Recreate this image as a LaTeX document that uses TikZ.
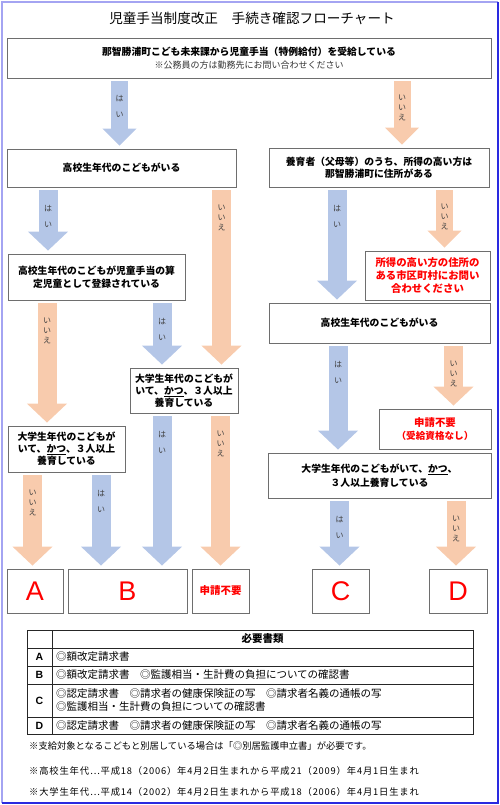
\documentclass[tikz,border=0pt]{standalone}
\usepackage{fontspec}
\setmainfont{Noto Sans CJK JP}
\newfontfamily\latin{Liberation Sans}
\usepackage{xcolor}
\usepackage{tikz}
\usetikzlibrary{arrows.meta,positioning}
\definecolor{FlowBlue}{HTML}{B4C6E7}
\definecolor{FlowOrange}{HTML}{F8CBAD}
\definecolor{FlowLine}{HTML}{6E6E6E}
\definecolor{FlowLabel}{HTML}{404040}
\definecolor{FlowFrameA}{HTML}{A4A4F2}
\definecolor{FlowFrameB}{HTML}{2A2AE0}
\newcommand\katsuline[1]{\leavevmode\setbox0\hbox{#1}\rlap{\rule[-1.8pt]{\wd0}{0.6pt}}\box0}

\begin{document}
\begin{tikzpicture}[x=1pt,y=-1pt,
  box/.style={draw=FlowLine,line width=.8pt,fill=white,align=center,inner sep=2pt,
    font=\fontsize{9.8}{12.5}\selectfont\bfseries},
  alert/.style={box,text=red,font=\fontsize{10.4}{12.6}\selectfont\bfseries},
  result/.style={box,minimum height=44pt,text=red,font=\latin\fontsize{27}{27}\selectfont},
  yesarrow/.style={draw=FlowBlue,line width=19pt,-{Triangle[width=39pt,length=19pt]},
    shorten <=3pt,shorten >=3pt},
  noarrow/.style={yesarrow,draw=FlowOrange},
  slimyes/.style={yesarrow,line width=17pt,-{Triangle[width=33pt,length=17pt]}},
  slimno/.style={slimyes,draw=FlowOrange},
  yeslabel/.style={anchor=north,yshift=-8pt,inner sep=0pt,text=FlowLabel,align=center,
    font=\fontsize{8}{16}\selectfont},
  nolabel/.style={yeslabel,font=\fontsize{8}{10}\selectfont},
  keycell/.style={draw=black!85,line width=.6pt,minimum width=25pt,inner sep=0pt,outer sep=0pt,
    font=\latin\fontsize{10.5}{12}\selectfont\bfseries},
  doccell/.style={draw=black!85,line width=.6pt,text width=413pt,inner xsep=4pt,inner ysep=0pt,
    outer sep=0pt,align=left,font=\fontsize{10.5}{13}\selectfont},
  note/.style={anchor=west,inner sep=0pt,font=\fontsize{9.3}{11}\selectfont}
]
\useasboundingbox (0,0) rectangle (500,805);
\draw[FlowFrameA,line width=1.5pt] (2,803) -- (2,2) -- (498,2);
\draw[FlowFrameB,line width=1.5pt] (498,2) -- (498,803) -- (2,803);

\node[font=\fontsize{13.6}{16}\selectfont] (title) at (252,18) {児童手当制度改正　手続き確認フローチャート};

\node[box,minimum width=484pt,minimum height=40pt] (q1) at (249,58)
  {那智勝浦町こども未来課から児童手当（特例給付）を受給している\\
  {\mdseries\fontsize{9}{12}\selectfont\color{black!80}※公務員の方は勤務先にお問い合わせください}};
\node[box,minimum width=229pt,minimum height=38pt] (q2) at (121.5,168) {高校生年代のこどもがいる};
\node[box,minimum width=220pt,minimum height=39pt] (q3) at (379,167.5)
  {養育者（父母等）のうち、所得の高い方は\\那智勝浦町に住所がある};
\node[box,minimum width=177pt,minimum height=46pt] (q4) at (96.5,277)
  {高校生年代のこどもが児童手当の算\\定児童として登録されている};
\node[alert,minimum width=125pt,minimum height=49pt] (q8) at (427.5,275.5)
  {所得の高い方の住所の\\ある市区町村にお問い\\合わせください};
\node[box,minimum width=221pt,minimum height=40pt] (q7) at (379.5,323) {高校生年代のこどもがいる};
\node[box,minimum width=108pt,minimum height=45pt,font=\fontsize{9.8}{11.8}\selectfont\bfseries] (q5) at (184,390.5)
  {大学生年代のこどもが\\いて、\katsuline{かつ}、３人以上\\養育している};
\node[alert,minimum width=112pt,minimum height=40pt] (q9) at (435,429)
  {申請不要\\{\fontsize{9.6}{12}\selectfont（受給資格なし）}};
\node[box,minimum width=117pt,minimum height=46pt,font=\fontsize{9.8}{12}\selectfont\bfseries] (q6) at (66.5,449)
  {大学生年代のこどもが\\いて、\katsuline{かつ}、３人以上\\養育している};
\node[box,minimum width=223pt,minimum height=45pt,font=\fontsize{9.8}{14}\selectfont\bfseries] (q10) at (379.5,475.5)
  {大学生年代のこどもがいて、\katsuline{かつ}、\\３人以上養育している};

\node[result,minimum width=56pt] (rA) at (35,591) {A};
\node[result,minimum width=119pt] (rB) at (127.5,591) {B};
\node[result,minimum width=57pt,font=\fontsize{10.5}{12}\selectfont\bfseries] (rN) at (220.5,591) {申請不要};
\node[result,minimum width=57pt] (rC) at (340.5,591) {C};
\node[result,minimum width=58pt] (rD) at (458,591) {D};

\draw[slimyes] (q1.south -| 119.5,0) -- (q2.north -| 119.5,0) node[yeslabel,at start]{は\\い};
\draw[slimno] (q1.south -| 402,0) -- (q3.north -| 402,0) node[nolabel,at start]{い\\い\\え};
\draw[yesarrow] (q2.south -| 48,0) -- (q4.north -| 48,0) node[yeslabel,at start]{は\\い};
\draw[noarrow] (q2.south -| 221.5,0) -- (q5.north -| 221.5,0) node[nolabel,at start]{い\\い\\え};
\draw[noarrow] (q4.south -| 47,0) -- (q6.north -| 47,0) node[nolabel,at start]{い\\い\\え};
\draw[yesarrow] (q4.south -| 162,0) -- (q5.north -| 162,0) node[yeslabel,at start]{は\\い};
\draw[yesarrow] (q5.south -| 162,0) -- (rB.north -| 162,0) node[yeslabel,at start]{は\\い};
\draw[noarrow] (q5.south -| 220.5,0) -- (rN.north -| 220.5,0) node[nolabel,at start]{い\\い\\え};
\draw[noarrow] (q6.south -| 32.5,0) -- (rA.north -| 32.5,0) node[nolabel,at start]{い\\い\\え};
\draw[yesarrow] (q6.south -| 101,0) -- (rB.north -| 101,0) node[yeslabel,at start]{は\\い};
\draw[yesarrow] (q3.south -| 337,0) -- (q7.north -| 337,0) node[yeslabel,at start]{は\\い};
\draw[slimno] (q3.south -| 444.5,0) -- (q8.north -| 444.5,0) node[nolabel,at start]{い\\い\\え};
\draw[yesarrow] (q7.south -| 338,0) -- (q10.north -| 338,0) node[yeslabel,at start]{は\\い};
\draw[noarrow] (q7.south -| 453.5,0) -- (q9.north -| 453.5,0) node[nolabel,at start]{い\\い\\え};
\draw[yesarrow] (q10.south -| 339.5,0) -- (rC.north -| 339.5,0) node[yeslabel,at start]{は\\い};
\draw[noarrow] (q10.south -| 456,0) -- (rD.north -| 456,0) node[nolabel,at start]{い\\い\\え};

\node[keycell,minimum height=18pt,anchor=north west] (k0) at (27,630) {};
\node[doccell,minimum height=18pt,right=0pt of k0,align=center,font=\fontsize{10.5}{13}\selectfont\bfseries] (d0) {必要書類};
\node[keycell,minimum height=18pt,below=0pt of k0] (kA) {A};
\node[doccell,minimum height=18pt,right=0pt of kA] (dA) {◎額改定請求書};
\node[keycell,minimum height=18pt,below=0pt of kA] (kB) {B};
\node[doccell,minimum height=18pt,right=0pt of kB] (dB) {◎額改定請求書　◎監護相当・生計費の負担についての確認書};
\node[keycell,minimum height=33pt,below=0pt of kB] (kC) {C};
\node[doccell,minimum height=33pt,right=0pt of kC] (dC)
  {◎認定請求書　◎請求者の健康保険証の写　◎請求者名義の通帳の写\\◎監護相当・生計費の負担についての確認書};
\node[keycell,minimum height=17pt,below=0pt of kC] (kD) {D};
\node[doccell,minimum height=17pt,right=0pt of kD] (dD) {◎認定請求書　◎請求者の健康保険証の写　◎請求者名義の通帳の写};

\node[note] (n1) at (29,746) {※支給対象となるこどもと別居している場合は「◎別居監護申立書」が必要です。};
\node[note] (n2) at (29,771) {\addfontfeatures{LetterSpace=9}※高校生年代…平成18（2006）年4月2日生まれから平成21（2009）年4月1日生まれ};
\node[note] (n3) at (29,792) {\addfontfeatures{LetterSpace=9}※大学生年代…平成14（2002）年4月2日生まれから平成18（2006）年4月1日生まれ};
\end{tikzpicture}
\end{document}
